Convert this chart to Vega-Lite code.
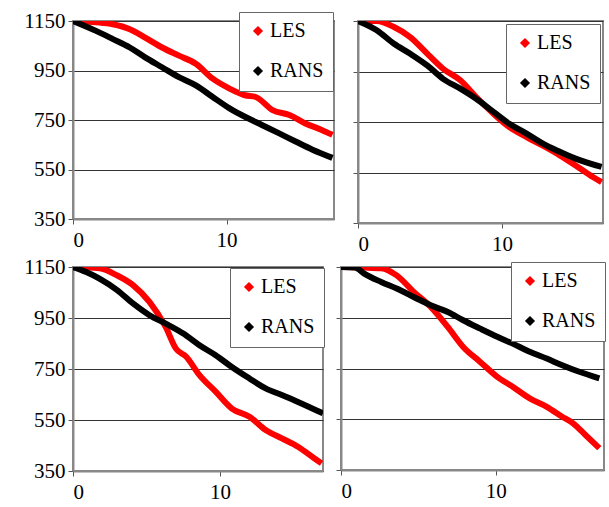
{
  "$schema": "https://vega.github.io/schema/vega-lite/v6.json",
  "padding": {"left": 22, "top": 9, "right": 2, "bottom": 2},
  "datasets": {
    "d": [
      {"p":"TL","s":"LES","x":0,"y":1150},{"p":"TL","s":"LES","x":1.5,"y":1145},{"p":"TL","s":"LES","x":2.6,"y":1137},{"p":"TL","s":"LES","x":3.7,"y":1117},{"p":"TL","s":"LES","x":4.7,"y":1083},{"p":"TL","s":"LES","x":5.8,"y":1043},{"p":"TL","s":"LES","x":6.9,"y":1010},{"p":"TL","s":"LES","x":8.0,"y":977},{"p":"TL","s":"LES","x":9.1,"y":917},{"p":"TL","s":"LES","x":10.2,"y":877},{"p":"TL","s":"LES","x":11.2,"y":850},{"p":"TL","s":"LES","x":11.9,"y":843},{"p":"TL","s":"LES","x":13.0,"y":790},{"p":"TL","s":"LES","x":14.1,"y":770},{"p":"TL","s":"LES","x":15.1,"y":737},{"p":"TL","s":"LES","x":16.2,"y":710},{"p":"TL","s":"LES","x":16.9,"y":690},
      {"p":"TL","s":"RANS","x":0,"y":1150},{"p":"TL","s":"RANS","x":1.5,"y":1110},{"p":"TL","s":"RANS","x":2.6,"y":1077},{"p":"TL","s":"RANS","x":3.7,"y":1043},{"p":"TL","s":"RANS","x":4.7,"y":1003},{"p":"TL","s":"RANS","x":5.8,"y":963},{"p":"TL","s":"RANS","x":6.9,"y":923},{"p":"TL","s":"RANS","x":8.0,"y":890},{"p":"TL","s":"RANS","x":9.1,"y":843},{"p":"TL","s":"RANS","x":10.2,"y":797},{"p":"TL","s":"RANS","x":11.2,"y":763},{"p":"TL","s":"RANS","x":12.3,"y":730},{"p":"TL","s":"RANS","x":13.4,"y":697},{"p":"TL","s":"RANS","x":14.5,"y":663},{"p":"TL","s":"RANS","x":15.6,"y":630},{"p":"TL","s":"RANS","x":16.9,"y":597},
      {"p":"TR","s":"LES","x":0,"y":1150},{"p":"TR","s":"LES","x":1.3,"y":1150},{"p":"TR","s":"LES","x":2.5,"y":1126},{"p":"TR","s":"LES","x":3.6,"y":1087},{"p":"TR","s":"LES","x":4.8,"y":1021},{"p":"TR","s":"LES","x":5.9,"y":961},{"p":"TR","s":"LES","x":7.1,"y":915},{"p":"TR","s":"LES","x":8.2,"y":849},{"p":"TR","s":"LES","x":9.4,"y":783},{"p":"TR","s":"LES","x":10.5,"y":730},{"p":"TR","s":"LES","x":11.7,"y":690},{"p":"TR","s":"LES","x":12.8,"y":657},{"p":"TR","s":"LES","x":14.0,"y":618},{"p":"TR","s":"LES","x":15.1,"y":578},{"p":"TR","s":"LES","x":16.3,"y":532},{"p":"TR","s":"LES","x":16.9,"y":512},
      {"p":"TR","s":"RANS","x":0,"y":1150},{"p":"TR","s":"RANS","x":1.3,"y":1113},{"p":"TR","s":"RANS","x":2.5,"y":1060},{"p":"TR","s":"RANS","x":3.6,"y":1021},{"p":"TR","s":"RANS","x":4.8,"y":974},{"p":"TR","s":"RANS","x":5.9,"y":921},{"p":"TR","s":"RANS","x":7.1,"y":882},{"p":"TR","s":"RANS","x":8.2,"y":842},{"p":"TR","s":"RANS","x":9.4,"y":790},{"p":"TR","s":"RANS","x":10.5,"y":743},{"p":"TR","s":"RANS","x":11.7,"y":704},{"p":"TR","s":"RANS","x":12.8,"y":665},{"p":"TR","s":"RANS","x":14.0,"y":632},{"p":"TR","s":"RANS","x":15.1,"y":605},{"p":"TR","s":"RANS","x":16.9,"y":572},
      {"p":"BL","s":"LES","x":0,"y":1150},{"p":"BL","s":"LES","x":1.8,"y":1145},{"p":"BL","s":"LES","x":3.0,"y":1117},{"p":"BL","s":"LES","x":4.1,"y":1078},{"p":"BL","s":"LES","x":5.2,"y":1013},{"p":"BL","s":"LES","x":6.3,"y":915},{"p":"BL","s":"LES","x":7.0,"y":830},{"p":"BL","s":"LES","x":7.7,"y":798},{"p":"BL","s":"LES","x":8.6,"y":726},{"p":"BL","s":"LES","x":9.7,"y":661},{"p":"BL","s":"LES","x":10.8,"y":595},{"p":"BL","s":"LES","x":12.0,"y":563},{"p":"BL","s":"LES","x":13.1,"y":511},{"p":"BL","s":"LES","x":14.2,"y":478},{"p":"BL","s":"LES","x":15.3,"y":445},{"p":"BL","s":"LES","x":16.4,"y":400},{"p":"BL","s":"LES","x":16.9,"y":380},
      {"p":"BL","s":"RANS","x":0,"y":1150},{"p":"BL","s":"RANS","x":0.9,"y":1130},{"p":"BL","s":"RANS","x":1.8,"y":1104},{"p":"BL","s":"RANS","x":3.0,"y":1059},{"p":"BL","s":"RANS","x":4.1,"y":1006},{"p":"BL","s":"RANS","x":5.2,"y":961},{"p":"BL","s":"RANS","x":6.3,"y":928},{"p":"BL","s":"RANS","x":7.5,"y":889},{"p":"BL","s":"RANS","x":8.6,"y":843},{"p":"BL","s":"RANS","x":9.7,"y":804},{"p":"BL","s":"RANS","x":10.8,"y":758},{"p":"BL","s":"RANS","x":12.0,"y":713},{"p":"BL","s":"RANS","x":13.1,"y":674},{"p":"BL","s":"RANS","x":14.2,"y":648},{"p":"BL","s":"RANS","x":15.3,"y":621},{"p":"BL","s":"RANS","x":17.0,"y":576},
      {"p":"BR","s":"LES","x":0,"y":1150},{"p":"BR","s":"LES","x":1.5,"y":1148},{"p":"BR","s":"LES","x":2.6,"y":1145},{"p":"BR","s":"LES","x":3.6,"y":1117},{"p":"BR","s":"LES","x":4.7,"y":1052},{"p":"BR","s":"LES","x":5.8,"y":993},{"p":"BR","s":"LES","x":6.9,"y":914},{"p":"BR","s":"LES","x":7.9,"y":835},{"p":"BR","s":"LES","x":9.0,"y":776},{"p":"BR","s":"LES","x":10.1,"y":717},{"p":"BR","s":"LES","x":11.1,"y":678},{"p":"BR","s":"LES","x":12.2,"y":632},{"p":"BR","s":"LES","x":13.3,"y":599},{"p":"BR","s":"LES","x":14.3,"y":560},{"p":"BR","s":"LES","x":15.0,"y":534},{"p":"BR","s":"LES","x":15.8,"y":488},{"p":"BR","s":"LES","x":16.7,"y":436},
      {"p":"BR","s":"RANS","x":0,"y":1150},{"p":"BR","s":"RANS","x":0.9,"y":1148},{"p":"BR","s":"RANS","x":1.5,"y":1124},{"p":"BR","s":"RANS","x":2.6,"y":1091},{"p":"BR","s":"RANS","x":3.6,"y":1065},{"p":"BR","s":"RANS","x":4.7,"y":1032},{"p":"BR","s":"RANS","x":5.8,"y":999},{"p":"BR","s":"RANS","x":6.9,"y":973},{"p":"BR","s":"RANS","x":7.9,"y":940},{"p":"BR","s":"RANS","x":9.0,"y":907},{"p":"BR","s":"RANS","x":10.1,"y":875},{"p":"BR","s":"RANS","x":11.1,"y":848},{"p":"BR","s":"RANS","x":12.2,"y":816},{"p":"BR","s":"RANS","x":13.3,"y":789},{"p":"BR","s":"RANS","x":14.3,"y":763},{"p":"BR","s":"RANS","x":15.4,"y":737},{"p":"BR","s":"RANS","x":16.7,"y":711}
    ]
  },
  "data": {"name": "d"},
  "spacing": 0,
  "resolve": {"scale": {"x": "independent", "y": "independent", "stroke": "independent"}, "legend": {"stroke": "independent"}},
  "vconcat": [
    {
      "spacing": 16,
      "resolve": {"scale": {"x": "independent", "y": "independent", "stroke": "independent"}, "legend": {"stroke": "independent"}},
      "hconcat": [
        {
          "width": 261, "height": 198,
          "transform": [{"filter": "datum.p == 'TL'"}],
          "mark": {"type": "line", "strokeWidth": 6, "interpolate": "monotone", "clip": true},
          "encoding": {
            "x": {"field": "x", "type": "quantitative", "scale": {"domain": [0, 17], "nice": false}, "axis": {"values": [0, 10], "grid": false, "title": null, "labelPadding": 5}},
            "y": {"field": "y", "type": "quantitative", "scale": {"domain": [350, 1150], "nice": false}, "axis": {"values": [350, 550, 750, 950, 1150], "format": "d", "grid": true, "title": null}},
            "stroke": {"field": "s", "type": "nominal", "scale": {"domain": ["LES", "RANS"], "range": ["#ff0000", "#000000"]}, "legend": {"orient": "none", "legendX": 166, "legendY": -9, "title": null, "symbolType": "diamond", "symbolStrokeWidth": 4, "symbolSize": 20}}
          }
        },
        {
          "width": 245, "height": 202,
          "transform": [{"filter": "datum.p == 'TR'"}],
          "mark": {"type": "line", "strokeWidth": 6, "interpolate": "monotone", "clip": true},
          "encoding": {
            "x": {"field": "x", "type": "quantitative", "scale": {"domain": [0, 17], "nice": false}, "axis": {"values": [0, 10], "grid": false, "title": null, "labelPadding": 5}},
            "y": {"field": "y", "type": "quantitative", "scale": {"domain": [350, 1150], "nice": false}, "axis": {"values": [350, 550, 750, 950, 1150], "grid": true, "labels": false, "title": null}},
            "stroke": {"field": "s", "type": "nominal", "scale": {"domain": ["LES", "RANS"], "range": ["#ff0000", "#000000"]}, "legend": {"orient": "none", "legendX": 148, "legendY": 3, "title": null, "symbolType": "diamond", "symbolStrokeWidth": 4, "symbolSize": 20}}
          }
        }
      ]
    },
    {
      "spacing": 8,
      "resolve": {"scale": {"x": "independent", "y": "independent", "stroke": "independent"}, "legend": {"stroke": "independent"}},
      "hconcat": [
        {
          "width": 250, "height": 204,
          "transform": [{"filter": "datum.p == 'BL'"}],
          "mark": {"type": "line", "strokeWidth": 6, "interpolate": "monotone", "clip": true},
          "encoding": {
            "x": {"field": "x", "type": "quantitative", "scale": {"domain": [0, 17], "nice": false}, "axis": {"values": [0, 10], "grid": false, "title": null, "labelPadding": 5}},
            "y": {"field": "y", "type": "quantitative", "scale": {"domain": [350, 1150], "nice": false}, "axis": {"values": [350, 550, 750, 950, 1150], "format": "d", "grid": true, "title": null}},
            "stroke": {"field": "s", "type": "nominal", "scale": {"domain": ["LES", "RANS"], "range": ["#ff0000", "#000000"]}, "legend": {"orient": "none", "legendX": 157, "legendY": 1, "title": null, "symbolType": "diamond", "symbolStrokeWidth": 4, "symbolSize": 20}}
          }
        },
        {
          "width": 263, "height": 203,
          "transform": [{"filter": "datum.p == 'BR'"}],
          "mark": {"type": "line", "strokeWidth": 6, "interpolate": "monotone", "clip": true},
          "encoding": {
            "x": {"field": "x", "type": "quantitative", "scale": {"domain": [0, 17], "nice": false}, "axis": {"values": [0, 10], "grid": false, "title": null, "labelPadding": 5}},
            "y": {"field": "y", "type": "quantitative", "scale": {"domain": [350, 1150], "nice": false}, "axis": {"values": [350, 550, 750, 950, 1150], "grid": true, "labels": false, "title": null}},
            "stroke": {"field": "s", "type": "nominal", "scale": {"domain": ["LES", "RANS"], "range": ["#ff0000", "#000000"]}, "legend": {"orient": "none", "legendX": 170, "legendY": -5, "title": null, "symbolType": "diamond", "symbolStrokeWidth": 4, "symbolSize": 20}}
          }
        }
      ]
    }
  ],
  "config": {
    "view": {"stroke": "#888888", "strokeWidth": 2},
    "axis": {"labelFont": "Liberation Serif", "labelFontSize": 21, "labelColor": "#000000", "domainColor": "#888888", "domainWidth": 2, "tickColor": "#555555", "tickSize": 5, "gridColor": "#333333", "gridWidth": 1, "labelPadding": 3},
    "legend": {"labelFont": "Liberation Serif", "labelFontSize": 20, "labelColor": "#000000", "padding": 9, "rowPadding": 18, "strokeColor": "#666666", "fillColor": "#ffffff", "labelOffset": 2}
  }
}
